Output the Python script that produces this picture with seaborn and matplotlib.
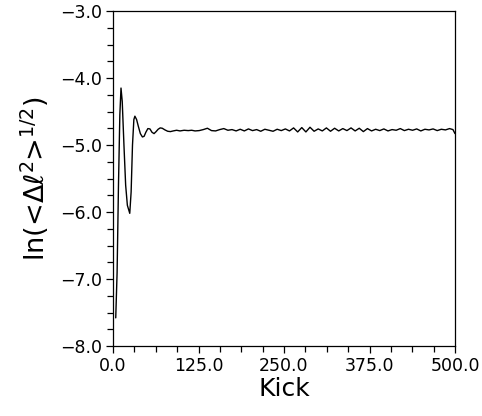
import numpy as np
import pandas as pd
import matplotlib
matplotlib.use('Agg')
import matplotlib.pyplot as plt
import seaborn as sns
from matplotlib.ticker import MultipleLocator, FuncFormatter

# kick number and ln(<dl^2>^1/2)
kick_start = [4, 6, 8, 10, 11.7, 13.5, 16, 18.5, 21, 24.5, 26.5, 28.5, 30.5, 32,
              34.5, 37, 40, 43, 45.5, 48, 51, 54, 57, 60, 63, 66, 69, 72, 76,
              80, 84, 88, 93, 98, 104, 110, 115]
val_start = [-7.58, -6.9, -5.6, -4.55, -4.15, -4.35, -5.0, -5.6, -5.9, -6.02, -5.7,
             -5.0, -4.62, -4.57, -4.62, -4.72, -4.83, -4.88, -4.87, -4.81, -4.755,
             -4.76, -4.81, -4.83, -4.80, -4.765, -4.745, -4.75, -4.775, -4.795,
             -4.80, -4.79, -4.78, -4.79, -4.78, -4.785, -4.78]

kick_tail = [120, 126, 132, 138, 144, 150, 156, 162, 168, 174, 180, 186, 192, 198,
             204, 210, 216, 222, 228, 234, 240, 246, 252, 258, 264, 270, 276, 282,
             288, 294, 300, 306, 312, 318, 324, 330, 336, 342, 348, 354, 360, 366,
             372, 378, 384, 390, 396, 402, 408, 414, 420, 426, 432, 438, 444, 450,
             456, 462, 468, 474, 480, 486, 492, 497, 500]
val_tail = [-4.79, -4.785, -4.77, -4.75, -4.785, -4.79, -4.77, -4.755, -4.78, -4.77,
            -4.79, -4.765, -4.79, -4.76, -4.785, -4.77, -4.795, -4.765, -4.78,
            -4.795, -4.765, -4.785, -4.76, -4.79, -4.745, -4.805, -4.74, -4.805,
            -4.735, -4.795, -4.76, -4.79, -4.745, -4.795, -4.75, -4.79, -4.755,
            -4.785, -4.745, -4.79, -4.75, -4.80, -4.755, -4.79, -4.765, -4.785,
            -4.76, -4.79, -4.77, -4.78, -4.755, -4.785, -4.765, -4.78, -4.76,
            -4.79, -4.765, -4.775, -4.76, -4.785, -4.765, -4.775, -4.755, -4.77, -4.83]

df = pd.DataFrame({'kick': kick_start + kick_tail, 'val': val_start + val_tail})

sns.set_style('ticks')
plt.rcParams['mathtext.fontset'] = 'dejavusans'
plt.rcParams['mathtext.default'] = 'regular'
plt.rcParams['text.color'] = 'black'
plt.rcParams['axes.labelcolor'] = 'black'

fig = plt.figure(figsize=(4.82, 4.16), dpi=100)
ax = fig.add_axes([113 / 482, 1 - 346 / 416, 342 / 482, 335 / 416])
sns.lineplot(data=df, x='kick', y='val', color='black', linewidth=1.0, sort=False, ax=ax)

fmt = FuncFormatter(lambda v, p: f'{v:.1f}'.replace('-', '\u2212'))

ax.set_xlim(0, 500)
ax.set_ylim(-8, -3)
ax.xaxis.set_major_locator(MultipleLocator(125))
ax.xaxis.set_minor_locator(MultipleLocator(31.25))
ax.yaxis.set_major_locator(MultipleLocator(1))
ax.yaxis.set_minor_locator(MultipleLocator(0.25))
ax.xaxis.set_major_formatter(fmt)
ax.yaxis.set_major_formatter(fmt)
ax.tick_params(which='major', length=5, width=0.9, labelsize=12.5, color='black',
               labelcolor='black', pad=3)
ax.tick_params(which='minor', length=4, width=0.9, color='black')
for s in ax.spines.values():
    s.set_linewidth(0.9)
    s.set_color('black')

ax.set_xlabel('Kick', fontsize=18, labelpad=1)
ax.set_ylabel('ln(<Δℓ$^2$>$^{1/2}$)', fontsize=19.5, labelpad=6)

fig.savefig('out.png', dpi=100)
